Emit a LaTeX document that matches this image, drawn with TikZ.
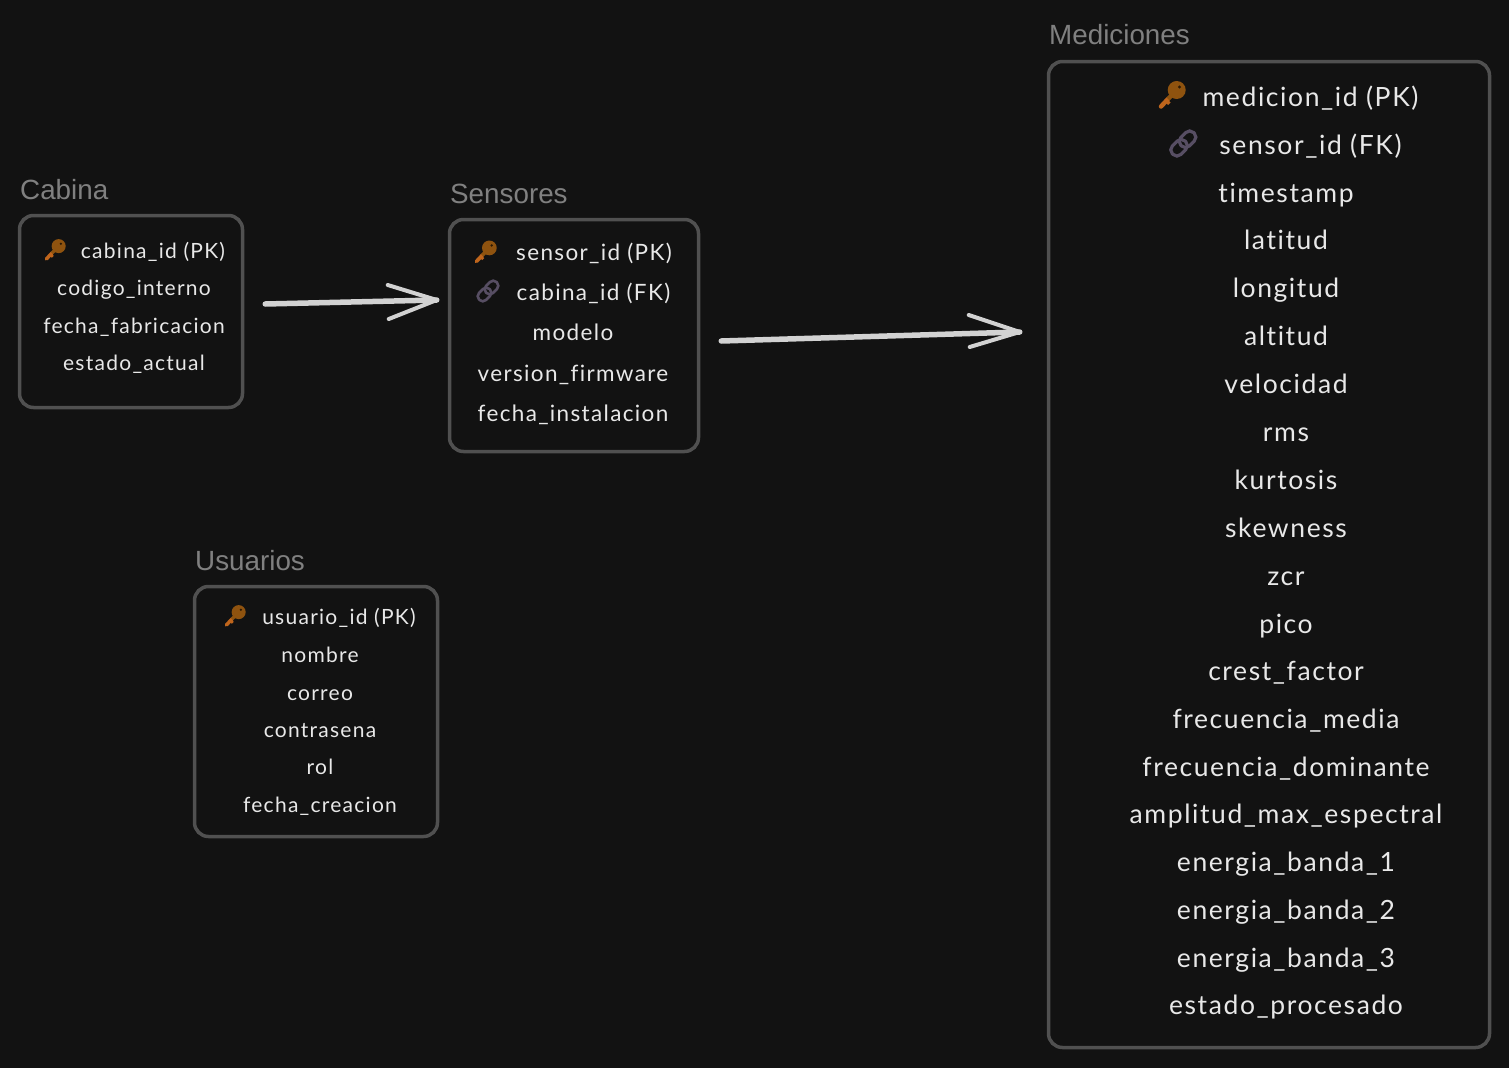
\documentclass[tikz,border=0pt]{standalone}
\usepackage{fontspec}
\setmainfont{Liberation Sans}
\newfontfamily\hand[LetterSpace=6,Ligatures=NoCommon,Renderer=OpenType]{Lato}
\usetikzlibrary{calc}
\definecolor{bgc}{HTML}{121212}
\definecolor{edgec}{HTML}{505050}
\definecolor{titlec}{HTML}{808080}
\definecolor{fieldc}{HTML}{E8E8E8}
\definecolor{arrowc}{HTML}{D2D2D2}
\definecolor{keyc}{HTML}{8F530F}
\definecolor{keytip}{HTML}{BF651C}
\definecolor{linkc}{HTML}{574E63}
\tikzset{
  x=1pt,y=-1pt,
  tablebox/.style={draw=edgec,line width=3.5pt,rounded corners=14pt,inner sep=0pt},
  tabletitle/.style={text=titlec,anchor=west,inner sep=0pt,font=\fontsize{27.8}{30}\selectfont},
  fieldbase/.style={text=fieldc,inner sep=0pt,text height=0.72em,text depth=0.22em},
  fieldS/.style={fieldbase,yshift=-5pt,font=\hand\fontsize{21}{24}\selectfont},
  fieldM/.style={fieldbase,yshift=-5pt,font=\hand\fontsize{22.5}{26}\selectfont},
  fieldL/.style={fieldbase,yshift=-6.5pt,font=\hand\fontsize{26.5}{30}\selectfont},
  conn/.style={draw=arrowc,line width=5.5pt,line cap=round,line join=round},
  barb/.style={draw=arrowc,line width=4pt,line cap=round,line join=round},
  keyicon/.pic={
    \begin{scope}[scale=#1]
      \draw[keytip,line width=#1*4.5pt,line cap=round] (-11,11.5) -- (-4,4);
      \draw[keyc,line width=#1*4.5pt] (-4,4) -- (2,-2);
      \fill[keyc] (4.7,-5) circle (9);
      \fill[keytip] (-6,8) -- (-4,10) -- (-1.5,7.5) -- (-3.5,5.5) -- cycle;
      \fill[black!70!keyc] (7.5,-8) circle (1.6);
    \end{scope}},
  linkicon/.pic={
    \begin{scope}[scale=#1,rotate=45]
      \draw[linkc,line width=#1*3.2pt,rounded corners=#1*5.5pt] (-15,-6) rectangle (3,6);
      \draw[linkc,line width=#1*3.2pt,rounded corners=#1*5.5pt] (-3,-6) rectangle (15,6);
    \end{scope}},
}
\begin{document}
\begin{tikzpicture}
\fill[bgc] (0,0) rectangle (1509,1068);
\useasboundingbox (0,0) rectangle (1509,1068);

% tables
\node[tablebox,minimum width=223pt,minimum height=192pt] (cabina) at (131,311.5) {};
\node[tablebox,minimum width=249pt,minimum height=232pt] (sensores) at (574,335.5) {};
\node[tablebox,minimum width=243pt,minimum height=250pt] (usuarios) at (316,711.5) {};
\node[tablebox,minimum width=441pt,minimum height=986pt] (mediciones) at (1269,554.5) {};

% titles
\node[tabletitle] (tcabina) at (20,190) {Cabina};
\node[tabletitle] (tsensores) at (450,194) {Sensores};
\node[tabletitle] (tusuarios) at (195,561) {Usuarios};
\node[tabletitle] (tmediciones) at (1049,35) {Mediciones};

% Cabina
\pic at (55,250) {keyicon=0.78};
\node[fieldS] (c1) at (153,251) {cabina\_id (PK)};
\node[fieldS] (c2) at (134,288) {codigo\_interno};
\node[fieldS] (c3) at (134,326) {fecha\_fabricacion};
\node[fieldS] (c4) at (134,363) {estado\_actual};

% Sensores
\pic at (485.5,252) {keyicon=0.82};
\pic at (488,291) {linkicon=0.82};
\node[fieldM] (s1) at (594,253) {sensor\_id (PK)};
\node[fieldM] (s2) at (593.5,293) {cabina\_id (FK)};
\node[fieldM] (s3) at (573,333) {modelo};
\node[fieldM] (s4) at (573,374) {version\_firmware};
\node[fieldM] (s5) at (573,414) {fecha\_instalacion};

% Usuarios
\pic at (235,616) {keyicon=0.78};
\node[fieldS] (u1) at (339,617) {usuario\_id (PK)};
\node[fieldS] (u2) at (320,655) {nombre};
\node[fieldS] (u3) at (320,693) {correo};
\node[fieldS] (u4) at (320,730) {contrasena};
\node[fieldS] (u5) at (320,767) {rol};
\node[fieldS] (u6) at (320,805) {fecha\_creacion};

% Mediciones
\pic at (1172,95) {keyicon=1};
\pic at (1183.3,143.5) {linkicon=1};
\node[fieldL] (m1) at (1310.5,97) {medicion\_id (PK)};
\node[fieldL] (m2) at (1310.5,145) {sensor\_id (FK)};
\node[fieldL] (m3) at (1286,193) {timestamp};
\node[fieldL] (m4) at (1286,240) {latitud};
\node[fieldL] (m5) at (1286,288) {longitud};
\node[fieldL] (m6) at (1286,336) {altitud};
\node[fieldL] (m7) at (1286,384) {velocidad};
\node[fieldL] (m8) at (1286,432) {rms};
\node[fieldL] (m9) at (1286,480) {kurtosis};
\node[fieldL] (m10) at (1286,528) {skewness};
\node[fieldL] (m11) at (1286,576) {zcr};
\node[fieldL] (m12) at (1286,624) {pico};
\node[fieldL] (m13) at (1286,671) {crest\_factor};
\node[fieldL] (m14) at (1286,719) {frecuencia\_media};
\node[fieldL] (m15) at (1286,767) {frecuencia\_dominante};
\node[fieldL] (m16) at (1286,814) {amplitud\_max\_espectral};
\node[fieldL] (m17) at (1286,862) {energia\_banda\_1};
\node[fieldL] (m18) at (1286,910) {energia\_banda\_2};
\node[fieldL] (m19) at (1286,958) {energia\_banda\_3};
\node[fieldL] (m20) at (1286,1005) {estado\_procesado};

% connectors
\draw[conn] ([xshift=21pt,yshift=7.5pt]cabina.east) -- ([xshift=-11pt,yshift=35.5pt]sensores.west) coordinate (tipa);
\draw[barb] (tipa) ++(-49,-15) -- (tipa) -- ++(-48,19);
\draw[conn] ([xshift=21pt,yshift=-5.5pt]sensores.east) -- ([xshift=-27pt,yshift=222.5pt]mediciones.west) coordinate (tipb);
\draw[barb] (tipb) ++(-51,-17) -- (tipb) -- ++(-50,15);
\end{tikzpicture}
\end{document}
